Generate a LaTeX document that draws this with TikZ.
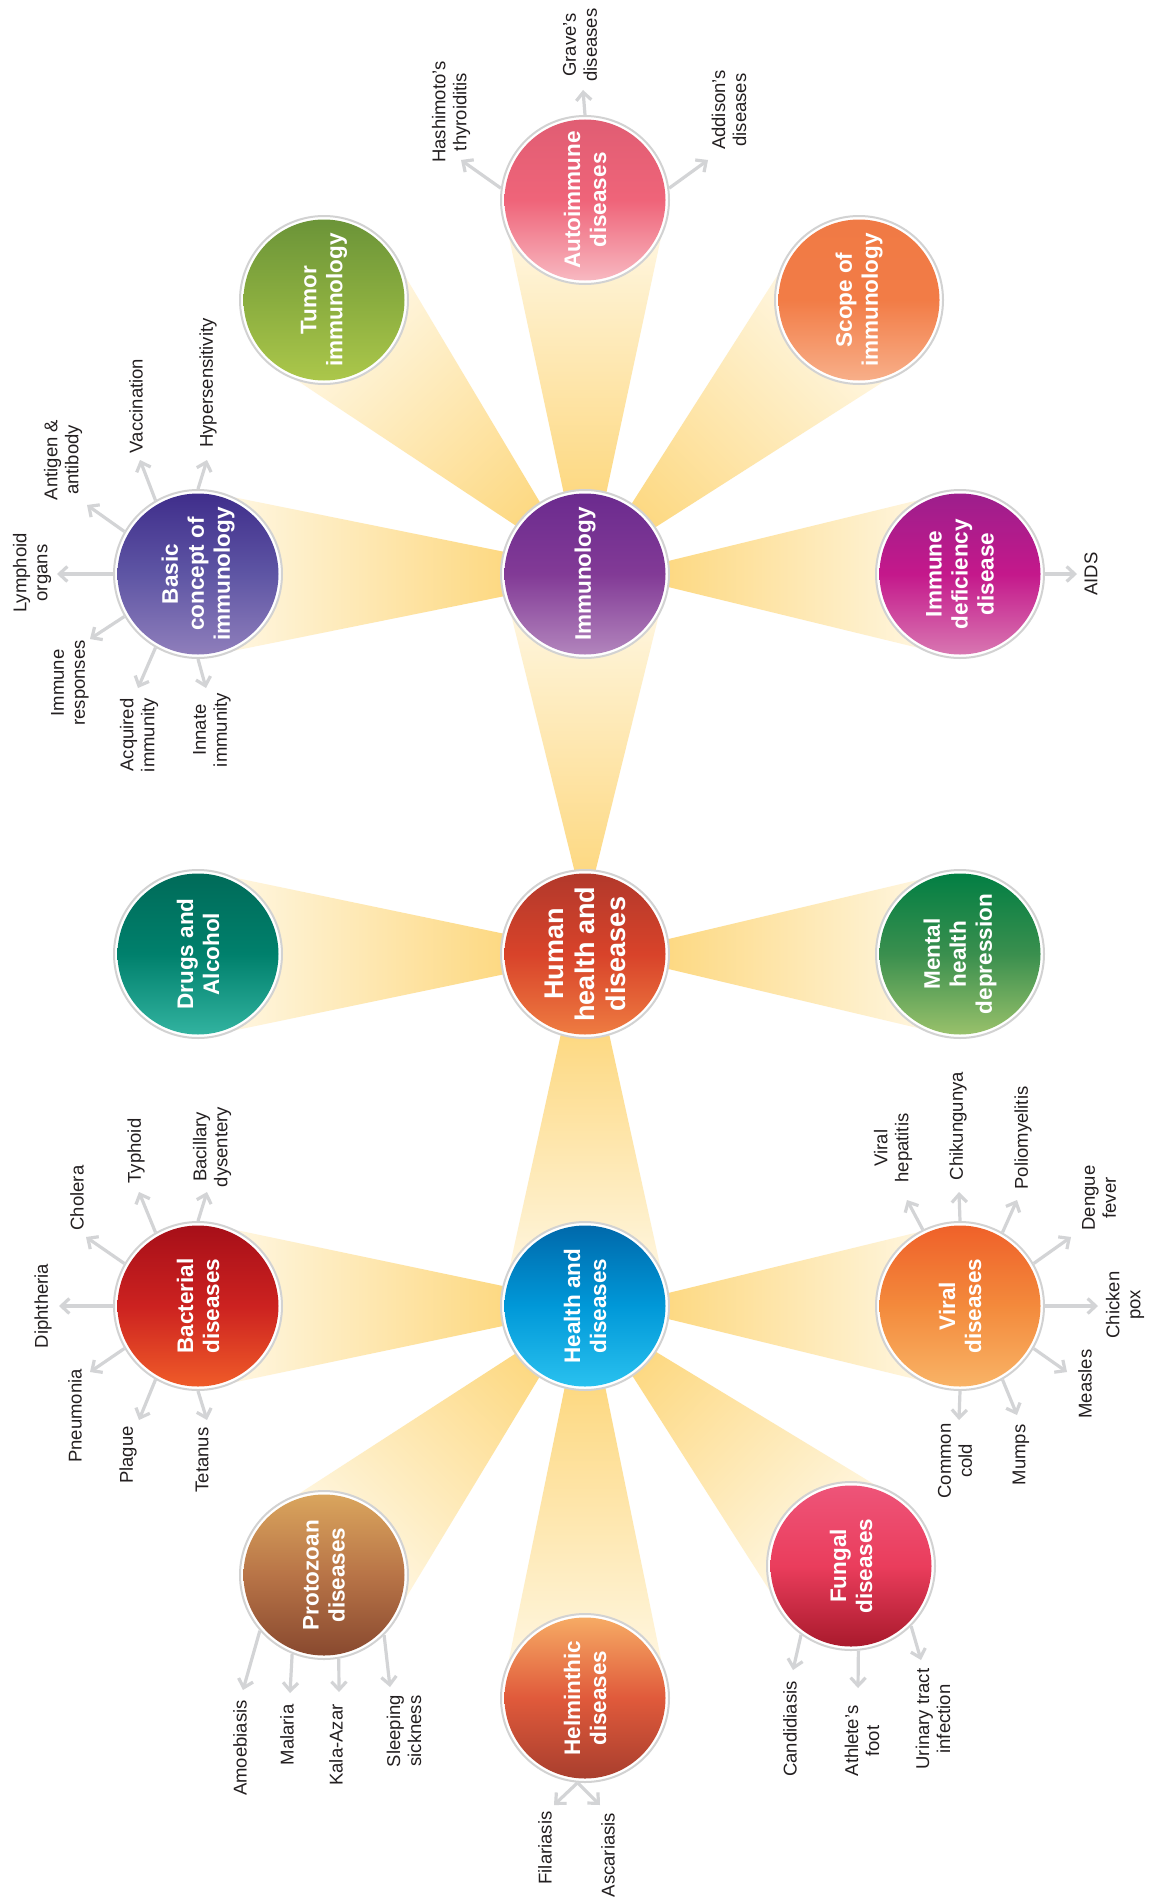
\documentclass[tikz,border=0pt]{standalone}
\usepackage{fontspec}
\setmainfont{Liberation Sans}
\usetikzlibrary{arrows.meta,backgrounds,calc}
\definecolor{ringgray}{HTML}{D2D2D2}
\definecolor{arrowgray}{HTML}{D3D4D6}
\definecolor{leafcol}{HTML}{231F20}
\definecolor{beamA}{RGB}{253,216,128}
\definecolor{beamB}{RGB}{255,250,236}
% circle gradients: top, middle, bottom
\definecolor{immA}{HTML}{6A2A8E}\definecolor{immB}{HTML}{823A96}\definecolor{immC}{HTML}{B488BE}
\definecolor{humA}{HTML}{B0382B}\definecolor{humB}{HTML}{D8432A}\definecolor{humC}{HTML}{EF7E42}
\definecolor{heaA}{HTML}{0067A9}\definecolor{heaB}{HTML}{0098D8}\definecolor{heaC}{HTML}{2BC3F0}
\definecolor{basA}{HTML}{3E2C8A}\definecolor{basB}{HTML}{5E55A4}\definecolor{basC}{HTML}{9180BC}
\definecolor{tumA}{HTML}{6A9338}\definecolor{tumB}{HTML}{8AAD3F}\definecolor{tumC}{HTML}{ADC84B}
\definecolor{autA}{HTML}{E05D73}\definecolor{autB}{HTML}{EF6479}\definecolor{autC}{HTML}{F8BCC4}
\definecolor{scoA}{HTML}{F07A45}\definecolor{scoB}{HTML}{F27C46}\definecolor{scoC}{HTML}{F8B18C}
\definecolor{ideA}{HTML}{9B1F8C}\definecolor{ideB}{HTML}{C4188B}\definecolor{ideC}{HTML}{D97BB3}
\definecolor{druA}{HTML}{006A58}\definecolor{druB}{HTML}{00806C}\definecolor{druC}{HTML}{34B5A2}
\definecolor{menA}{HTML}{007E43}\definecolor{menB}{HTML}{3A8F4E}\definecolor{menC}{HTML}{9DC36C}
\definecolor{bacA}{HTML}{A50E18}\definecolor{bacB}{HTML}{CC2220}\definecolor{bacC}{HTML}{F15E29}
\definecolor{virA}{HTML}{EF5F29}\definecolor{virB}{HTML}{F38A3C}\definecolor{virC}{HTML}{F9B568}
\definecolor{proA}{HTML}{DBA75E}\definecolor{proB}{HTML}{B87447}\definecolor{proC}{HTML}{86472E}
\definecolor{helA}{HTML}{F7AE66}\definecolor{helB}{HTML}{E05A3B}\definecolor{helC}{HTML}{A63D2D}
\definecolor{funA}{HTML}{EE557A}\definecolor{funB}{HTML}{EA3D5C}\definecolor{funC}{HTML}{A6182A}

\newcommand\beam[3]{%
  \path let \p1=(#1), \p2=(#2), \n1={atan2(\y2-\y1,\x2-\x1)}, \n2={veclen(\x2-\x1,\y2-\y1)} in
    \pgfextra{\xdef\bang{\n1}\xdef\blen{\n2}\xdef\bx{\x1}\xdef\by{\y1}};
  \begin{scope}[transform canvas={shift={(\bx,\by)},rotate=\bang}]
    \shade[left color=beamA, right color=beamB]
      (75pt,-#3pt) -- (\blen,-84pt) -- (\blen,84pt) -- (75pt,#3pt) -- cycle;
  \end{scope}}
\newcommand\leaf[5]{%
  \coordinate (#5e) at (#2);
  \draw[arr] (#1) -- (#5e);
  \node[leaftxt] (#5) at (#3) {#4};}

\begin{document}
\begin{tikzpicture}[x=1pt,y=-1pt,
  bub/.style={circle, minimum size=168pt, inner sep=0pt, draw=ringgray,
    line width=2pt, fill=white,
    path picture={\shade[top color=#1A, bottom color=#1C, middle color=#1B]
      (path picture bounding box.center) circle[radius=80.5pt];}},
  lab/.style={rotate=90, align=center, text=white, inner sep=0pt,
    font=\bfseries\fontsize{22.5}{26}\selectfont},
  leaftxt/.style={rotate=90, align=center, text=leafcol, inner sep=0pt,
    font=\fontsize{18.5}{21}\selectfont},
  arr/.style={draw=arrowgray, line width=3.2pt, -{Straight Barb[length=8pt,width=15pt]}}]
\useasboundingbox (0,0) rectangle (1151,1900);

% circles
\node[bub=imm] (imm) at (585,574) {};
\node[bub=hum] (hum) at (585,954) {};
\node[bub=hea] (hea) at (585,1306) {};
\node[bub=bas] (bas) at (198,574) {};
\node[bub=tum] (tum) at (324,300) {};
\node[bub=aut] (aut) at (585,200) {};
\node[bub=sco] (sco) at (859,300) {};
\node[bub=ide] (ide) at (960,574) {};
\node[bub=dru] (dru) at (198,954) {};
\node[bub=men] (men) at (960,954) {};
\node[bub=bac] (bac) at (198,1306) {};
\node[bub=vir] (vir) at (960,1306) {};
\node[bub=pro] (pro) at (324,1575) {};
\node[bub=hel] (hel) at (585,1698) {};
\node[bub=fun] (fun) at (851,1566) {};

% circle labels
\node[lab] (immT) at (imm) {Immunology};
\node[lab, font=\bfseries\fontsize{27}{31}\selectfont] (humT) at (hum) {Human\\health and\\diseases};
\node[lab] (heaT) at (hea) {Health and\\diseases};
\node[lab] (basT) at (bas) {Basic\\concept of\\immunology};
\node[lab] (tumT) at (tum) {Tumor\\immunology};
\node[lab] (autT) at (aut) {Autoimmune\\diseases};
\node[lab] (scoT) at (sco) {Scope of\\immunology};
\node[lab] (ideT) at (ide) {Immune\\deficiency\\disease};
\node[lab] (druT) at (dru) {Drugs and\\Alcohol};
\node[lab] (menT) at (men) {Mental\\health\\depression};
\node[lab] (bacT) at (bac) {Bacterial\\diseases};
\node[lab] (virT) at (vir) {Viral\\diseases};
\node[lab] (proT) at (pro) {Protozoan\\diseases};
\node[lab] (helT) at (hel) {Helminthic\\diseases};
\node[lab] (funT) at (fun) {Fungal\\diseases};

% beams
\begin{pgfonlayer}{background}
\fill[white] (0,0) rectangle (1151,1900);
\beam{hum}{imm}{8.5}
\beam{hum}{hea}{23}
\beam{hum}{dru}{19}
\beam{hum}{men}{13}
\beam{imm}{bas}{21}
\beam{imm}{ide}{11}
\beam{imm}{aut}{20}
\beam{imm}{tum}{15}
\beam{imm}{sco}{15}
\beam{hea}{bac}{18.5}
\beam{hea}{vir}{11}
\beam{hea}{hel}{19}
\beam{hea}{pro}{15}
\beam{hea}{fun}{15}
\end{pgfonlayer}

% Basic concept leaves
\leaf{bas.90}{207,460}{208,383}{Hypersensitivity}{hyp}
\leaf{bas.120}{140,460}{136,406}{Vaccination}{vac}
\leaf{bas.150}{87,505}{63,460}{Antigen \&\\antibody}{ant}
\leaf{bas.180}{57,574}{32,573}{Lymphoid\\organs}{lym}
\leaf{bas.210}{90,639}{70,683}{Immune\\responses}{imr}
\leaf{bas.240}{138,688}{139,735}{Acquired\\immunity}{acq}
\leaf{bas.270}{206,688}{212,730}{Innate\\immunity}{inn}

% Autoimmune leaves
\leaf{aut.172}{461,160}{451,112}{Hashimoto’s\\thyroiditis}{has}
\leaf{aut.90}{583,90}{580,45}{Grave’s\\diseases}{gra}
\leaf{aut.8}{708,160}{729,110}{Addison’s\\diseases}{add}

% Immune deficiency
\leaf{ide.0}{1077,574}{1091,574}{AIDS}{aids}

% Bacterial leaves
\leaf{bac.90}{207,1192}{212,1147}{Bacillary\\dysentery}{bdy}
\leaf{bac.120}{139,1192}{136,1151}{Typhoid}{typ}
\leaf{bac.150}{86,1237}{77,1198}{Cholera}{cho}
\leaf{bac.180}{59,1306}{43,1306}{Diphtheria}{dip}
\leaf{bac.210}{90,1372}{75,1416}{Pneumonia}{pne}
\leaf{bac.240}{139,1420}{128,1455}{Plague}{pla}
\leaf{bac.270}{207,1420}{202,1460}{Tetanus}{tet}

% Viral leaves
\leaf{vir.116}{907,1200}{893,1148}{Viral\\hepatitis}{vhe}
\leaf{vir.90}{959,1192}{958,1126}{Chikungunya}{chi}
\leaf{vir.60}{1017,1200}{1023,1138}{Poliomyelitis}{pol}
\leaf{vir.30}{1071,1237}{1099,1198}{Dengue\\fever}{den}
\leaf{vir.0}{1098,1306}{1125,1305}{Chicken\\pox}{chp}
\leaf{vir.330}{1067,1372}{1085,1384}{Measles}{mea}
\leaf{vir.300}{1017,1415}{1021,1455}{Mumps}{mum}
\leaf{vir.270}{959,1420}{955,1461}{Common\\cold}{cco}

% Protozoan leaves
\leaf{pro.221}{243,1690}{240,1748}{Amoebiasis}{amo}
\leaf{pro.248}{290,1693}{287,1735}{Malaria}{mal}
\leaf{pro.280}{339,1692}{336,1745}{Kala-Azar}{kal}
\leaf{pro.315}{390,1687}{404,1731}{Sleeping\\sickness}{sle}

% Helminthic leaves
\leaf{hel.265}{554,1805}{545,1848}{Filariasis}{fil}
\leaf{hel.265}{600,1805}{608,1855}{Ascariasis}{asc}

% Fungal leaves
\leaf{fun.234}{793,1670}{790,1729}{Candidiasis}{can}
\leaf{fun.275}{858,1688}{862,1741}{Athlete’s\\foot}{ath}
\leaf{fun.315}{921,1660}{933,1719}{Urinary tract\\infection}{uri}
\end{tikzpicture}
\end{document}
